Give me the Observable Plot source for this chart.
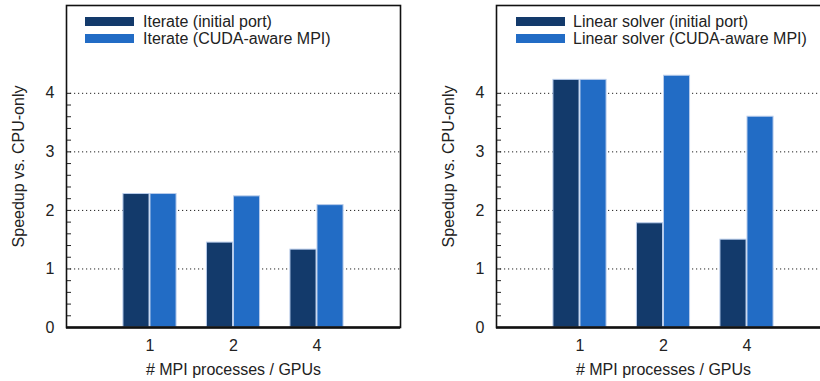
<!DOCTYPE html>
<html>
<head>
<meta charset="utf-8">
<script src="https://cdn.jsdelivr.net/npm/d3@7"></script>
<script src="https://cdn.jsdelivr.net/npm/@observablehq/plot@0.6"></script>
<style>
  html, body { margin: 0; padding: 0; background: #fff; overflow: hidden; }
  #wrap { position: relative; width: 820px; height: 381px; overflow: hidden; font-family: "Liberation Sans", Arial, sans-serif; }
  .panel { position: absolute; top: 0; }
  .panel svg { max-width: none !important; }
  .sw { position: absolute; width: 49px; height: 9px; }
  .lt { position: absolute; font-size: 16px; line-height: 17px; color: #222; white-space: nowrap; }
</style>
</head>
<body>
<div id="wrap"></div>
<script>
const categories = ["1", "2", "4"];
const seriesLeft = ["Iterate (initial port)", "Iterate (CUDA-aware MPI)"];
const iterInitial = [2.28, 1.45, 1.33];
const iterCuda = [2.28, 2.24, 2.09];
const seriesRight = ["Linear solver (initial port)", "Linear solver (CUDA-aware MPI)"];
const linInitial = [4.23, 1.78, 1.50];
const linCuda = [4.23, 4.30, 3.60];
const yMajorTicks = [0, 1, 2, 3, 4];
const yTickLabels = ["0", "1", "2", "3", "4"];
const yGridTicks = [1, 2, 3, 4];
const xLabel = "# MPI processes / GPUs";
const yLabel = "Speedup vs. CPU-only";
const colors = ["#133a6b", "#226cc5"];

function panel(series, a, b, opts) {
  const rows = categories.flatMap((c, i) => [
    {pos: i + 1, side: 0, series: series[0], value: a[i]},
    {pos: i + 1, side: 1, series: series[1], value: b[i]}
  ]);
  const w = 0.318;
  return Plot.plot({
    width: opts.width,
    height: 381,
    marginTop: 5,
    marginBottom: 54,
    marginLeft: opts.marginLeft,
    marginRight: opts.marginRight,
    x: {domain: [0, 4]},
    y: {domain: [0, 5.5]},
    color: {domain: series, range: colors},
    style: {fontFamily: "'Liberation Sans', Arial, sans-serif", fontSize: "16px", color: "#222", background: "transparent"},
    marks: [
      Plot.ruleY(yGridTicks, {stroke: "#222", strokeDasharray: "1.2,2.8", strokeWidth: 1}),
      Plot.rectY(rows, {
        x1: d => d.pos + (d.side === 0 ? -w : 0.006),
        x2: d => d.pos + (d.side === 0 ? -0.006 : w),
        y1: 0, y2: "value",
        fill: "series", stroke: "#b8cceb", strokeWidth: 1
      }),
      Plot.axisY({ticks: yMajorTicks, tickFormat: d => yTickLabels[yMajorTicks.indexOf(d)], tickSize: 0, tickPadding: 12, fontSize: 16,
        label: yLabel, labelAnchor: "center", labelArrow: "none", labelOffset: 54}),
      Plot.axisY({ticks: d3.ticks(0, 4, 20), tickSize: -5, tickFormat: () => "", label: null, stroke: "#222"}),
      Plot.axisX({ticks: [1, 2, 3], tickFormat: d => categories[d - 1], tickSize: 0, tickPadding: 12, fontSize: 16,
        label: xLabel, labelAnchor: "center", labelArrow: "none", labelOffset: 47}),
      Plot.frame({stroke: "#111", strokeWidth: 1.6}),
      Plot.ruleY([0], {stroke: "#111", strokeWidth: 2.6})
    ]
  });
}

const wrap = document.getElementById("wrap");
function addPanel(el, left, width) {
  const d = document.createElement("div");
  d.className = "panel";
  d.style.left = left + "px";
  d.style.width = width + "px";
  d.appendChild(el);
  wrap.appendChild(d);
}
addPanel(panel(seriesLeft, iterInitial, iterCuda, {width: 410, marginLeft: 66, marginRight: 10}), 0, 410);
addPanel(panel(seriesRight, linInitial, linCuda, {width: 420, marginLeft: 86, marginRight: 0}), 410, 420);

function legend(series, swLeft, textLeft) {
  series.forEach((s, i) => {
    const sw = document.createElement("div");
    sw.className = "sw";
    sw.style.left = swLeft + "px";
    sw.style.top = (17 + i * 16.5) + "px";
    sw.style.background = colors[i];
    wrap.appendChild(sw);
    const t = document.createElement("div");
    t.className = "lt";
    t.style.left = textLeft + "px";
    t.style.top = (13 + i * 17) + "px";
    t.textContent = s;
    wrap.appendChild(t);
  });
}
legend(seriesLeft, 85, 143);
legend(seriesRight, 516, 573);
</script>
</body>
</html>
